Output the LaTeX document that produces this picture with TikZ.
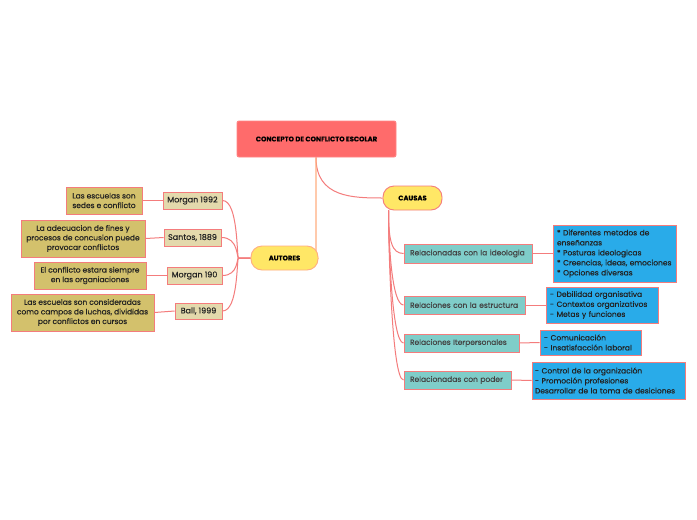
\documentclass[tikz,border=0pt]{standalone}
\usepackage{fontspec}
\setmainfont{Poppins}[FakeBold=0.3]
\usetikzlibrary{backgrounds}
\definecolor{topred}{HTML}{FF6B6B}
\definecolor{topborder}{HTML}{FF8585}
\definecolor{yel}{HTML}{FFE766}
\definecolor{salmon}{HTML}{F47C7C}
\definecolor{lorange}{HTML}{FFAE80}
\definecolor{beige}{HTML}{E3D9AC}
\definecolor{olive}{HTML}{D3C16C}
\definecolor{teal}{HTML}{7FCDC9}
\definecolor{sky}{HTML}{29ABE9}
\definecolor{txt}{HTML}{222222}
\begin{document}
\begin{tikzpicture}[x=1pt,y=-1pt,
  base/.style={draw=salmon,line width=0.9pt,inner sep=0pt,text=txt,font=\fontsize{7.5}{10}\selectfont},
  topbox/.style={base,fill=topred,draw=topborder,rounded corners=2pt,font=\bfseries\fontsize{6.8}{8}\selectfont,text=black},
  mainbox/.style={base,fill=yel,rounded corners=11pt,font=\bfseries\fontsize{6.8}{8}\selectfont,text=black},
  author/.style={base,fill=beige,font=\fontsize{8}{9}\selectfont},
  desc/.style={base,fill=olive,align=center,font=\fontsize{7.5}{9.6}\selectfont},
  cause/.style={base,fill=teal,text=txt!85,align=left,inner xsep=6pt},
  detail/.style={base,fill=sky,align=left},
  link/.style={draw=salmon,line width=1pt}
]
\useasboundingbox (0,0) rectangle (697,520);

\node[topbox,minimum width=159pt,minimum height=36pt] (top) at (316.5,139) {CONCEPTO DE CONFLICTO ESCOLAR};
\node[mainbox,minimum width=59pt,minimum height=24pt] (causas) at (412.5,198) {CAUSAS};
\node[mainbox,draw=lorange,minimum width=67pt,minimum height=24pt] (autores) at (284.5,258) {AUTORES};

% authors
\node[author,minimum width=59pt,minimum height=17pt] (a1) at (192.5,200.5) {Morgan 1992};
\node[author,minimum width=57pt,minimum height=17pt] (a2) at (192.5,237.5) {Santos, 1889};
\node[author,minimum width=55pt,minimum height=17pt] (a3) at (194.5,275.5) {Morgan 190};
\node[author,minimum width=47pt,minimum height=16pt] (a4) at (198.5,311) {Ball, 1999};

\node[desc,minimum width=76pt,minimum height=27pt] (d1) at (104,200.5) {Las escuelas son\\sedes e conflicto};
\node[desc,minimum width=124pt,minimum height=37pt] (d2) at (83,238.5) {La adecuacion de fines y\\procesos de concusion puede\\provocar conflictos};
\node[desc,minimum width=112pt,minimum height=27pt] (d3) at (90,275.5) {El conflicto estara siempre\\en las organiaciones};
\node[desc,minimum width=143pt,minimum height=37pt] (d4) at (82.5,312.5) {Las escuelas son consideradas\\como campos de luchas, divididas\\por conflictos en cursos};

% causes
\node[cause,minimum height=19pt,text width=116pt] (c1) at (468,253.5) {Relacionadas con la ideologia};
\node[cause,minimum height=18pt,text width=109pt] (c2) at (464.5,305) {Relaciones con la estructura};
\node[cause,minimum height=18pt,text width=103pt] (c3) at (461.5,343) {Relaciones Iterpersonales};
\node[cause,minimum height=18pt,text width=95pt] (c4) at (457.5,380) {Relacionadas con poder};

\node[detail,minimum height=57pt,text width=115pt,inner xsep=4pt] (e1) at (614.5,253.5) {* Diferentes metodos de\\enseñanzas\\{}* Posturas ideologicas\\{}* Creencias, ideas, emociones\\{}* Opciones diversas};
\node[detail,minimum height=36pt,text width=104pt,inner xsep=4pt] (e2) at (602,305) {- Debilidad organisativa\\- Contextos organizativos\\- Metas y funciones};
\node[detail,minimum height=25pt,text width=93pt,inner xsep=4pt] (e3) at (590.5,342.5) {- Comunicación\\- Insatisfacción laboral};
\node[detail,minimum height=37pt,text width=147pt,inner xsep=3pt] (e4) at (608.5,380.5) {- Control de la organización\\- Promoción profesiones\\Desarrollar de la toma de desiciones};

% connectors
\begin{scope}[on background layer]
\fill[white] (0,0) rectangle (697,520);
\coordinate (tb) at ([xshift=-0.5pt]top.south);
\draw[link] (tb) .. controls ([shift={(0,40)}]tb) and ([shift={(-30,0)}]causas.west) .. (causas.west);
\draw[draw=lorange,line width=1.2pt] (tb) -- ([shift={(0,95)}]tb) .. controls ([shift={(0,102)}]tb) .. (autores.east);

\coordinate (al) at (autores.west);
\coordinate (trunk) at ([shift={(-12,0)}]al);
\foreach \n in {a1,a2,a3,a4}{
  \draw[link] (al) -- (trunk) .. controls ([shift={(-2,0)}]trunk) and (trunk |- \n.east) .. (\n.east);
}
\draw[link] (d1.east) -- (a1.west);
\draw[link] (d2.east) -- (a2.west);
\draw[link] (d3.east) -- (a3.west);
\draw[link] (d4.east) -- (a4.west);

\coordinate (cb) at ([shift={(-24,0)}]causas.south);
\foreach \n in {c1,c2,c3,c4}{
  \draw[link] (cb) .. controls ([shift={(0,30)}]cb) and ([shift={(-12,0)}]\n.west) .. (\n.west);
}
\draw[link] (c1.east) -- (e1.west);
\draw[link] (c2.east) -- (e2.west);
\draw[link] (c3.east) -- (e3.west);
\draw[link] (c4.east) -- (e4.west);
\end{scope}
\end{tikzpicture}
\end{document}
